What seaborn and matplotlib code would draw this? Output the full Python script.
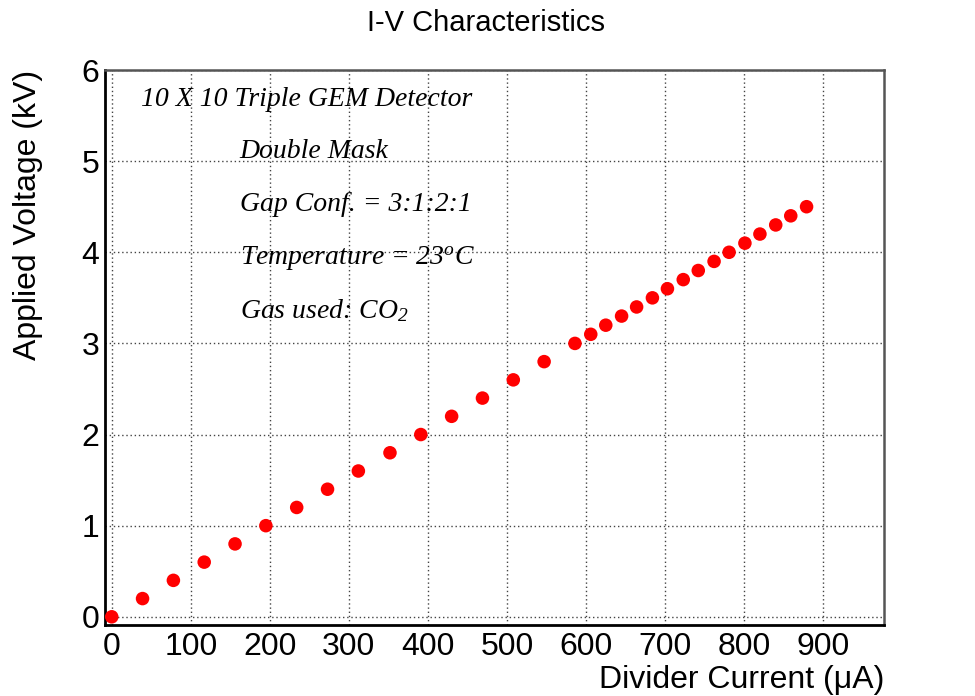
import numpy as np
import pandas as pd
import seaborn as sns
import matplotlib.pyplot as plt
from matplotlib.ticker import MultipleLocator

# Divider current (uA) and applied voltage (kV)
current_ua = [0, 39, 78, 117, 156, 195, 234, 273, 312, 352, 391, 430, 469, 508, 547,
              586, 606, 625, 645, 664, 684, 703, 723, 742, 762, 781, 801, 820, 840, 859, 879]
voltage_kv = [0.0, 0.2, 0.4, 0.6, 0.8, 1.0, 1.2, 1.4, 1.6, 1.8, 2.0, 2.2, 2.4, 2.6, 2.8,
              3.0, 3.1, 3.2, 3.3, 3.4, 3.5, 3.6, 3.7, 3.8, 3.9, 4.0, 4.1, 4.2, 4.3, 4.4, 4.5]

x_ticks = [0, 100, 200, 300, 400, 500, 600, 700, 800, 900]
y_ticks = [0, 1, 2, 3, 4, 5, 6]

info_lines = [
    "10 X 10 Triple GEM Detector",
    "Double Mask",
    "Gap Conf. = 3:1:2:1",
    "Temperature = 23$^{o}$C",
    "Gas used: CO$_{2}$",
]

df = pd.DataFrame({"current": current_ua, "voltage": voltage_kv})

sns.set_style("white")
plt.rcParams['font.family'] = ['Liberation Sans', 'DejaVu Sans']
plt.rcParams['text.color'] = 'black'
plt.rcParams['axes.labelcolor'] = 'black'
plt.rcParams['xtick.color'] = 'black'
plt.rcParams['ytick.color'] = 'black'
plt.rcParams['mathtext.fontset'] = 'custom'
plt.rcParams['mathtext.rm'] = 'Liberation Serif:italic'
plt.rcParams['mathtext.it'] = 'Liberation Serif:italic'

fig = plt.figure(figsize=(9.75, 6.96), dpi=100)
ax = fig.add_axes([0.1077, 0.102, 0.7990, 0.7974])

sns.scatterplot(x="current", y="voltage", data=df, ax=ax,
                color="#ff0000", s=95, edgecolor="none", zorder=3, clip_on=False)

ax.set_xlim(-8.5, 977)
ax.set_ylim(-0.09, 6)
ax.set_xticks(x_ticks)
ax.set_yticks(y_ticks)
ax.set_xticklabels([str(v) for v in x_ticks])
ax.set_yticklabels([str(v) for v in y_ticks])
ax.xaxis.set_minor_locator(MultipleLocator(20))
ax.yaxis.set_minor_locator(MultipleLocator(0.2))

# ROOT-like ticks: inside, left and bottom only
ax.tick_params(axis="x", which="major", direction="in", length=12, width=1.3,
               color="#555555", labelcolor="black", labelsize=23, pad=5)
ax.tick_params(axis="x", which="minor", direction="in", length=6, width=1.3, color="#777777")
ax.tick_params(axis="y", which="major", direction="in", length=16, width=1.3,
               color="#555555", labelcolor="black", labelsize=23, pad=4)
ax.tick_params(axis="y", which="minor", direction="in", length=8, width=1.3, color="#777777")

ax.grid(True, which="major", linestyle=(0, (1, 2)), color="#444444", linewidth=1.0)
ax.set_axisbelow(True)

for side in ["left", "bottom"]:
    ax.spines[side].set_color("black")
    ax.spines[side].set_linewidth(2.0)
for side in ["top", "right"]:
    ax.spines[side].set_color("#555555")
    ax.spines[side].set_linewidth(1.8)

ax.set_xlabel("Divider Current (μA)", fontsize=23, loc="right", labelpad=2, color="black")
ax.set_ylabel("Applied Voltage (kV)", fontsize=23, loc="top", labelpad=28, color="black")

fig.text(0.498, 1 - 31 / 696, "I-V Characteristics", ha="center", va="baseline",
         fontsize=21, color="black")

# info block in Times-like italic
text_x = [0.046, 0.173, 0.173, 0.173, 0.173]
text_y = [0.935, 0.841, 0.746, 0.649, 0.553]
for tx, ty, line in zip(text_x, text_y, info_lines):
    ax.text(tx, ty, line, transform=ax.transAxes, ha="left", va="baseline",
            fontsize=20, family="Liberation Serif", style="italic", color="black")

plt.savefig("out.png", dpi=100)
